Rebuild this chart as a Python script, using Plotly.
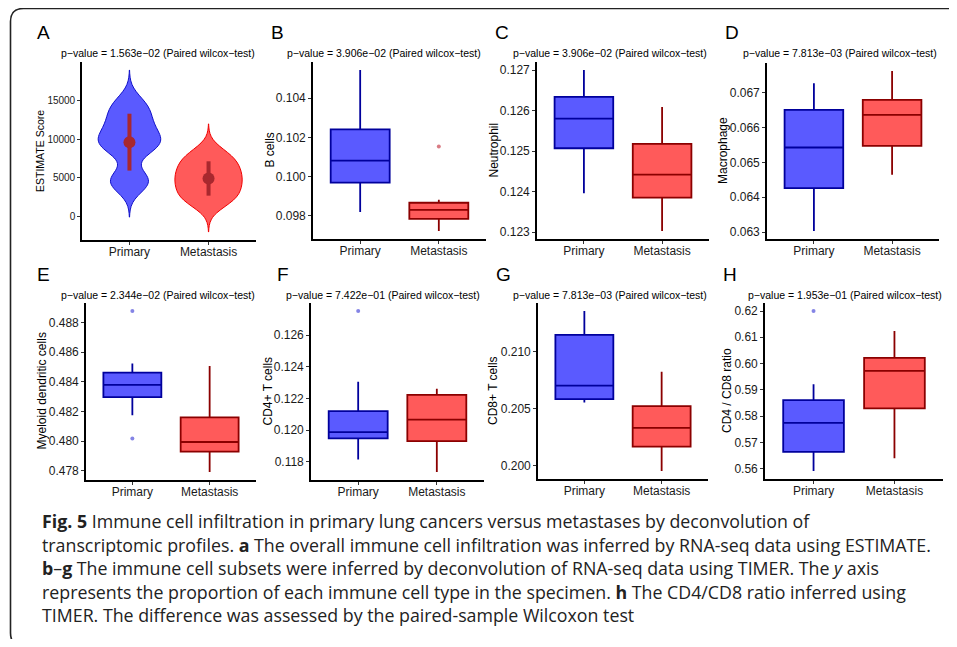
import numpy as np
import plotly.graph_objects as go

# the page body has an 8px margin: figure is sized/offset so that page pixels match
PAGE_W, PAGE_H, OFF = 957, 647, 8
W, H = PAGE_W - 2 * OFF, PAGE_H - 2 * OFF
FONT = "Liberation Sans, Arial, sans-serif"

categories = ["Primary", "Metastasis"]

# ---- Panel A: ESTIMATE score samples (violin) ----
estimate_primary = [4200, 4900, 8800, 9400, 10300, 11600, 13200, 14700]
estimate_metastasis = [1800, 2600, 3600, 4500, 5300, 6200, 7200, 8200]
estimate_bandwidth = [1430, 1270]
estimate_ticks = [0, 5000, 10000, 15000]

# ---- Panels B-H: box statistics [lower whisker, q1, median, q3, upper whisker] ----
bcells_primary = [0.0982, 0.0997, 0.10082, 0.10241, 0.10544]
bcells_metastasis = [0.09723, 0.09785, 0.09831, 0.09867, 0.09882]
bcells_out_primary = []
bcells_out_metastasis = [0.10154]
bcells_ticks = [0.098, 0.100, 0.102, 0.104]

neutro_primary = [0.12396, 0.12507, 0.12580, 0.12634, 0.12700]
neutro_metastasis = [0.12303, 0.12385, 0.12442, 0.12518, 0.12609]
neutro_out_primary = []
neutro_out_metastasis = []
neutro_ticks = [0.123, 0.124, 0.125, 0.126, 0.127]

macro_primary = [0.06303, 0.06426, 0.06543, 0.06651, 0.06728]
macro_metastasis = [0.06465, 0.06548, 0.06637, 0.06680, 0.06763]
macro_out_primary = []
macro_out_metastasis = []
macro_ticks = [0.063, 0.064, 0.065, 0.066, 0.067]

mdc_primary = [0.48176, 0.48297, 0.48380, 0.48463, 0.48524]
mdc_metastasis = [0.47793, 0.47930, 0.47995, 0.48161, 0.48508]
mdc_out_primary = [0.48878, 0.48018]
mdc_out_metastasis = []
mdc_ticks = [0.478, 0.480, 0.482, 0.484, 0.486, 0.488]

cd4_primary = [0.11815, 0.11948, 0.11988, 0.12120, 0.12305]
cd4_metastasis = [0.11737, 0.11931, 0.12067, 0.12223, 0.12261]
cd4_out_primary = [0.12751]
cd4_out_metastasis = []
cd4_ticks = [0.118, 0.120, 0.122, 0.124, 0.126]

cd8_primary = [0.20555, 0.20584, 0.20703, 0.21148, 0.21357]
cd8_metastasis = [0.19954, 0.20168, 0.20333, 0.20523, 0.20824]
cd8_out_primary = []
cd8_out_metastasis = []
cd8_ticks = [0.200, 0.205, 0.210]

ratio_primary = [0.55913, 0.56643, 0.57745, 0.58608, 0.59217]
ratio_metastasis = [0.56395, 0.58293, 0.59719, 0.60213, 0.61240]
ratio_out_primary = [0.6200]
ratio_out_metastasis = []
ratio_ticks = [0.56, 0.57, 0.58, 0.59, 0.60, 0.61, 0.62]

panel_letters = ["A", "B", "C", "D", "E", "F", "G", "H"]
p_values = ["1.563e−02", "3.906e−02", "3.906e−02", "7.813e−03",
            "2.344e−02", "7.422e−01", "7.813e−03", "1.953e−01"]
y_titles = ["ESTIMATE Score", "B cells", "Neutrophil", "Macrophage",
            "Myeloid dendritic cells", "CD4+ T cells", "CD8+ T cells", "CD4 / CD8 ratio"]

caption_lines = [
    "<b>Fig. 5</b> Immune cell infiltration in primary lung cancers versus metastases by deconvolution of",
    "transcriptomic profiles. <b>a</b> The overall immune cell infiltration was inferred by RNA-seq data using ESTIMATE.",
    "<b>b</b>–<b>g</b> The immune cell subsets were inferred by deconvolution of RNA-seq data using TIMER. The <i>y</i> axis",
    "represents the proportion of each immune cell type in the specimen. <b>h</b> The CD4/CD8 ratio inferred using",
    "TIMER. The difference was assessed by the paired-sample Wilcoxon test",
]

# ---- layout geometry (page pixels) ----
plot_areas = [  # x0, x1, y0, y1
    (82, 256, 62, 240), (313, 486, 62, 239), (537, 709, 62, 239), (767, 939, 63, 239),
    (86, 256, 303, 480), (311, 484, 303, 480), (538, 708, 303, 479), (765, 943, 303, 479),
]
title_centers = [158, 384, 610, 840, 158, 383, 610, 845]
letter_pos = [(43, 33), (277, 33), (502, 33), (732, 33), (43, 274), (283, 274), (503, 274), (730, 274)]
ytitle_x = [40, 269, 493, 723, 41, 267, 493, 727]

BLUE_FILL, BLUE_LINE = "#5A5AFF", "#00009C"
RED_FILL, RED_LINE = "#FF5A5A", "#8B0000"


def px(x):
    return (x - OFF) / W


def py(y):
    return 1 - (y - OFF) / H


fig = go.Figure()
layout = {}
annotations = []


def axis_names(i):
    return ("x" if i == 1 else f"x{i}"), ("y" if i == 1 else f"y{i}")


def expand(lo, hi):
    d = (hi - lo) * 0.05
    return [lo - d, hi + d]


# ---- Panel A: violins with mean ± sd ----
xr, yr = axis_names(1)
tips = []
for vals, bw, cat, fc, lc, wd in [
    (estimate_primary, estimate_bandwidth[0], "Primary", BLUE_FILL, "#1010C8", 0.79),
    (estimate_metastasis, estimate_bandwidth[1], "Metastasis", RED_FILL, "#F00000", 0.85),
]:
    span = [min(vals) - 3 * bw, max(vals) + 3 * bw]
    tips += span
    fig.add_trace(go.Violin(
        x=[cat] * len(vals), y=vals, xaxis=xr, yaxis=yr,
        bandwidth=bw, spanmode="manual", span=span, width=wd,
        fillcolor=fc, line=dict(color=lc, width=1), points=False,
        box_visible=False, meanline_visible=False, showlegend=False,
        hoverinfo="skip"))
for vals, cat in [(estimate_primary, "Primary"), (estimate_metastasis, "Metastasis")]:
    m = float(np.mean(vals))
    s = float(np.std(vals, ddof=1))
    fig.add_trace(go.Scatter(
        x=[cat], y=[m], xaxis=xr, yaxis=yr, mode="markers",
        marker=dict(size=12, color="#A8282E"),
        error_y=dict(type="data", array=[s], thickness=4, width=0, color="#A8282E"),
        showlegend=False, hoverinfo="skip"))
yranges = {1: expand(min(tips), max(tips))}
yticks = {1: (estimate_ticks, "d")}

# ---- Panels B-H: boxes ----
box_panels = [
    (2, bcells_primary, bcells_metastasis, bcells_out_primary, bcells_out_metastasis, bcells_ticks, ".3f"),
    (3, neutro_primary, neutro_metastasis, neutro_out_primary, neutro_out_metastasis, neutro_ticks, ".3f"),
    (4, macro_primary, macro_metastasis, macro_out_primary, macro_out_metastasis, macro_ticks, ".3f"),
    (5, mdc_primary, mdc_metastasis, mdc_out_primary, mdc_out_metastasis, mdc_ticks, ".3f"),
    (6, cd4_primary, cd4_metastasis, cd4_out_primary, cd4_out_metastasis, cd4_ticks, ".3f"),
    (7, cd8_primary, cd8_metastasis, cd8_out_primary, cd8_out_metastasis, cd8_ticks, ".3f"),
    (8, ratio_primary, ratio_metastasis, ratio_out_primary, ratio_out_metastasis, ratio_ticks, ".2f"),
]
for i, sp, sm, op, om, ticks, fmt in box_panels:
    xr, yr = axis_names(i)
    for stats, outs, cat, fc, lc, oc in [
        (sp, op, "Primary", BLUE_FILL, BLUE_LINE, "rgba(110,110,225,0.85)"),
        (sm, om, "Metastasis", RED_FILL, RED_LINE, "rgba(210,100,110,0.85)"),
    ]:
        fig.add_trace(go.Box(
            x=[cat], lowerfence=[stats[0]], q1=[stats[1]], median=[stats[2]],
            q3=[stats[3]], upperfence=[stats[4]], xaxis=xr, yaxis=yr,
            fillcolor=fc, line=dict(color=lc, width=1.8), width=0.75,
            whiskerwidth=0, boxpoints=False, showlegend=False, hoverinfo="skip"))
        if outs:
            fig.add_trace(go.Scatter(
                x=[cat] * len(outs), y=outs, xaxis=xr, yaxis=yr, mode="markers",
                marker=dict(size=4, color=oc), showlegend=False, hoverinfo="skip"))
    allv = sp + sm + op + om
    yranges[i] = expand(min(allv), max(allv))
    yticks[i] = (ticks, fmt)

# ---- axes ----
for i in range(1, 9):
    x0, x1, y0, y1 = plot_areas[i - 1]
    xa_key = "xaxis" if i == 1 else f"xaxis{i}"
    ya_key = "yaxis" if i == 1 else f"yaxis{i}"
    xr, yr = axis_names(i)
    common = dict(showline=True, linecolor="black", linewidth=1.6, ticks="outside",
                  ticklen=3, tickwidth=1, tickcolor="#333333", showgrid=False,
                  zeroline=False, fixedrange=True)
    layout[xa_key] = dict(domain=[px(x0), px(x1)], anchor=yr, type="category",
                          categoryorder="array", categoryarray=categories,
                          range=[-0.6, 1.6], ticklabelstandoff=-3,
                          tickfont=dict(family=FONT, size=12, color="#1a1a1a"), **common)
    tv, fmt = yticks[i]
    layout[ya_key] = dict(domain=[py(y1), py(y0)], anchor=xr, range=yranges[i],
                          tickvals=tv, tickformat=fmt,
                          tickfont=dict(family=FONT, size=10 if i == 1 else 12, color="#1a1a1a"),
                          **common)
    # p-value title
    ty = 53 if i <= 4 else 295
    annotations.append(dict(
        text=f"p−value = {p_values[i-1]} (Paired wilcox−test)", x=px(title_centers[i-1]),
        y=py(ty), xref="paper", yref="paper", xanchor="center", yanchor="middle",
        showarrow=False, font=dict(family=FONT, size=10.5, color="black")))
    # panel letter
    lx, ly = letter_pos[i - 1]
    annotations.append(dict(
        text=panel_letters[i-1], x=px(lx), y=py(ly), xref="paper", yref="paper",
        xanchor="center", yanchor="middle", showarrow=False,
        font=dict(family=FONT, size=19, color="black")))
    # y title
    annotations.append(dict(
        text=y_titles[i-1], x=px(ytitle_x[i-1]), y=py((y0 + y1) / 2), xref="paper",
        yref="paper", xanchor="center", yanchor="middle", textangle=-90, showarrow=False,
        font=dict(family=FONT, size=10.5 if i == 1 else 12, color="black")))

# ---- caption ----
cap_y = [521, 545, 568, 592, 615]
for line, yy in zip(caption_lines, cap_y):
    annotations.append(dict(
        text=line, x=px(40), y=py(yy), xref="paper", yref="paper", xanchor="left",
        yanchor="middle", showarrow=False, align="left",
        font=dict(family="Open Sans, Noto Sans, sans-serif", size=17.8, color="#222222")))

# ---- rounded frame ----
r = 13
frame = (f"M {px(970)},{py(8.5)} L {px(10.5 + r)},{py(8.5)} "
         f"Q {px(10.5)},{py(8.5)} {px(10.5)},{py(8.5 + r)} "
         f"L {px(10.5)},{py(646 - r)} Q {px(10.5)},{py(646)} {px(10.5 + r)},{py(646)} "
         f"L {px(970)},{py(646)}")

fig.update_layout(
    width=W, height=H, margin=dict(l=0, r=0, t=0, b=0),
    paper_bgcolor="white", plot_bgcolor="white", showlegend=False,
    annotations=annotations,
    shapes=[dict(type="path", path=frame, xref="paper", yref="paper",
                 line=dict(color="#222222", width=1.6))],
    violinmode="overlay", boxmode="overlay",
    **layout,
)

fig.write_html("out.html")
